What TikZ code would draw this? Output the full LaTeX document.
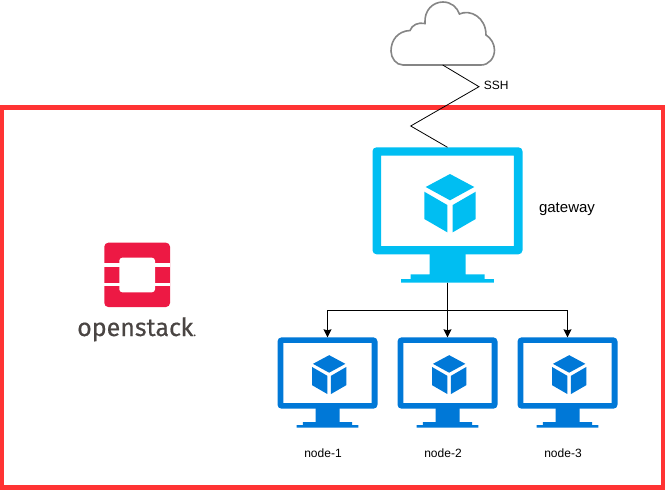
\documentclass[tikz,border=0pt]{standalone}
\usepackage{fontspec}
\setmainfont{Liberation Sans}
\newfontfamily\logofont[FakeBold=0.5]{Fira Sans}
\usepackage{xcolor}
\usetikzlibrary{arrows.meta}
\definecolor{frame red}{HTML}{FF3333}
\definecolor{gateway blue}{HTML}{00BEF2}
\definecolor{node blue}{HTML}{0078D7}
\definecolor{logo red}{HTML}{ED1944}
\definecolor{logo gray}{HTML}{4A4543}
\definecolor{cloud gray}{HTML}{858585}
\tikzset{
    pics/monitor/.style={code={
        \fill[#1, even odd rule, rounded corners=4pt] (-75, -67.7) rectangle (75, 39.3)
            [sharp corners] (-66.3, -59.3) rectangle (66.3, 31);
        \fill[#1] (-18, 35) -- (18, 35) -- (18, 59.3) -- (37, 59.3) -- (37, 64) -- (46.3, 64) -- (46.3, 67.7)
            -- (-46.3, 67.7) -- (-46.3, 64) -- (-37, 64) -- (-37, 59.3) -- (-18, 59.3) -- cycle;
        \fill[#1] (2.5, -41) -- (26.8, -28) -- (2.5, -14.7) -- (-21.8, -28) -- cycle;
        \fill[#1] (-23.2, -23.3) -- (-0.2, -10) -- (-0.2, 17.3) -- (-23.2, 4) -- cycle;
        \fill[#1] (5.2, -10) -- (28.2, -23.3) -- (28.2, 4) -- (5.2, 17.3) -- cycle;
    }}
}
\begin{document}
\begin{tikzpicture}[x=1pt, y=-1pt]
    \tikzstyle{Screen} = [inner sep=0pt, outer sep=0pt, minimum width=150pt, minimum height=135.4pt]
    \tikzstyle{Small Screen} = [inner sep=0pt, outer sep=0pt, minimum width=100pt, minimum height=90.4pt]
    \tikzstyle{Link} = [draw=black, line width=0.8pt]
    \tikzstyle{Tip Link} = [Link, -{Stealth[length=8pt, width=8pt, inset=1pt]}]
    \tikzstyle{Label} = [inner sep=0pt, font=\fontsize{12}{14}\selectfont]
    \useasboundingbox (0, 0) rectangle (665, 490);
    % frame
    \draw[frame red, line width=4.4pt] (2.2, 107.5) rectangle (662.8, 487.5);
    % cloud
    \draw[cloud gray, line width=1.6pt, fill=white] (403, 65) .. controls (396, 65) and (391, 58) .. (391, 51)
        .. controls (391, 40) and (398, 31) .. (410, 30.5)
        .. controls (412, 25) and (418, 22) .. (425, 23.5)
        .. controls (424, 10) and (433, 2) .. (443, 2)
        .. controls (451, 2) and (457, 7) .. (459.5, 14)
        .. controls (470, 9) and (486, 17) .. (486, 35)
        .. controls (491, 38) and (494.5, 44) .. (494.5, 50)
        .. controls (494.5, 58) and (489, 65) .. (481, 65) -- cycle;
    \coordinate (cloud bottom) at (442.7, 65);
    \coordinate (bend right) at (479, 86.7);
    \coordinate (bend left) at (410.7, 126);
    % monitors
    \node[Screen] (gateway) at (447.5, 215) {};
    \node[Small Screen] (node1) at (327.5, 382.5) {};
    \node[Small Screen] (node2) at (447.5, 382.5) {};
    \node[Small Screen] (node3) at (567.5, 382.5) {};
    \pic at (gateway) {monitor=gateway blue};
    \pic[scale=2/3] at (node1) {monitor=node blue};
    \pic[scale=2/3] at (node2) {monitor=node blue};
    \pic[scale=2/3] at (node3) {monitor=node blue};
    % links
    \draw[Link] (cloud bottom) -- (bend right) -- (bend left) -- (gateway.north);
    \draw[Tip Link] (gateway.south) -- (node2.north);
    \draw[Tip Link] (gateway.south) -- ++(0, 27.3) -| (node1.north);
    \draw[Tip Link] (gateway.south) -- ++(0, 27.3) -| (node3.north);
    % labels
    \node[Label] (ssh label) at (496.3, 85) {SSH};
    \node[Label, font=\fontsize{15}{18}\selectfont] (gateway label) at (567, 209.5) {gateway};
    \node[Label] (node1 label) at (323, 453) {node-1};
    \node[Label] (node2 label) at (443, 453) {node-2};
    \node[Label] (node3 label) at (563, 453) {node-3};
    % logo
    \fill[logo red, rounded corners=4pt] (104.3, 242.7) rectangle (170, 307);
    \fill[white, rounded corners=3pt] (119.3, 257.7) rectangle (155, 292.3);
    \fill[white] (104, 263.3) rectangle (170.3, 267.3);
    \fill[white] (104, 282.7) rectangle (170.3, 286);
    \node[inner sep=0pt, anchor=base west, text=logo gray, font=\logofont\fontsize{25}{30}\selectfont] (logo text) at (77, 336) {openstac\kern-0.5pt k{\fontsize{11}{11}\selectfont .}};
\end{tikzpicture}
\end{document}
